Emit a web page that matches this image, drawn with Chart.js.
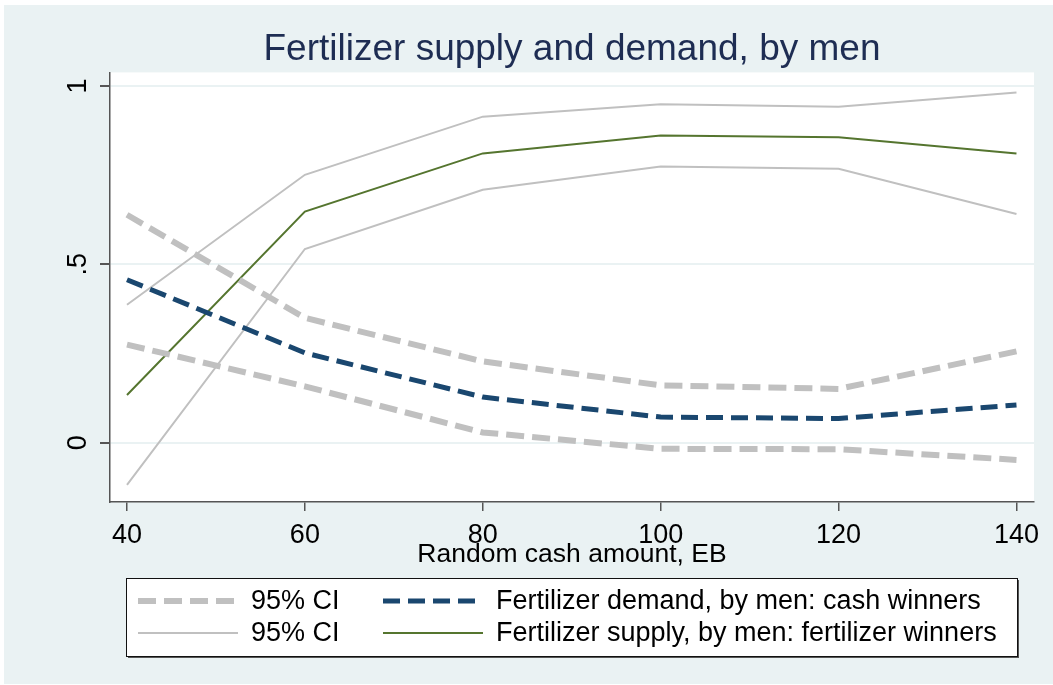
<!DOCTYPE html>
<html>
<head>
<meta charset="utf-8">
<title>Fertilizer supply and demand, by men</title>
<script src="https://cdn.jsdelivr.net/npm/chart.js@4.4.0/dist/chart.umd.min.js"></script>
<style>
   html, body { margin: 0; padding: 0; background: #ffffff; }
   #chart { display: block; }
</style>
</head>
<body>
<canvas id="chart" width="1053" height="685"></canvas>
<script>
'use strict';

/***** DATA *****/
var cashAmounts = [40, 60, 80, 100, 120, 140];

// Fertilizer demand, by men: cash winners
var demand = [0.457, 0.252, 0.128, 0.072, 0.068, 0.106];
var demandCiHigh = [0.639, 0.350, 0.228, 0.161, 0.151, 0.256];
var demandCiLow = [0.275, 0.158, 0.029, -0.017, -0.018, -0.048];

// Fertilizer supply, by men: fertilizer winners
var supply = [0.134, 0.648, 0.811, 0.861, 0.856, 0.811];
var supplyCiHigh = [0.387, 0.751, 0.914, 0.949, 0.942, 0.982];
var supplyCiLow = [-0.118, 0.543, 0.709, 0.774, 0.768, 0.641];

var yTicks = [0, 0.5, 1];
var yTickLabels = ['0', '.5', '1'];
var xTicks = [40, 60, 80, 100, 120, 140];

var seriesLabels = [
   '95% CI',
   'Fertilizer demand, by men: cash winners',
   '95% CI',
   'Fertilizer supply, by men: fertilizer winners'
];


/***** HELPERS *****/
var FONT = "'Liberation Sans', Arial, Helvetica, sans-serif";
var BG = '#EAF2F3';

function toPoints (values) {
   var pts = [];
   for (var i = 0; i < values.length; i++) {
      pts.push({ x: cashAmounts[i], y: values[i] });
   }
   return pts;
}

// upper and lower bound drawn as one series, broken by a null point
function band (high, low) {
   var pts = toPoints(high);
   pts.push({ x: cashAmounts[cashAmounts.length - 1], y: null });
   return pts.concat(toPoints(low));
}

// frame background + white plot region
var backdrop = {
   id: 'backdrop',
   beforeDraw: function (chart) {
      var ctx = chart.ctx, a = chart.chartArea;
      ctx.save();
      ctx.fillStyle = '#ffffff';
      ctx.fillRect(0, 0, chart.width, chart.height);
      ctx.fillStyle = BG;
      ctx.fillRect(4, 5, chart.width - 4, chart.height - 6);
      ctx.fillStyle = '#ffffff';
      ctx.fillRect(a.left, a.top, a.right - a.left, a.bottom - a.top);
      ctx.restore();
   }
};

// two column boxed legend, keys taken from the datasets
var boxLegend = {
   id: 'boxLegend',
   afterDraw: function (chart) {
      var ctx = chart.ctx;
      var box = { left: 126, top: 578, right: 1017, bottom: 656 };
      var cols = [138, 383];
      var keyLen = 100, gap = 13;
      var rows = [601, 633];

      ctx.save();
      ctx.fillStyle = '#555555';
      ctx.fillRect(box.left + 2, box.top + 2, box.right - box.left, box.bottom - box.top);
      ctx.fillStyle = '#ffffff';
      ctx.fillRect(box.left, box.top, box.right - box.left, box.bottom - box.top);
      ctx.strokeStyle = '#111111';
      ctx.lineWidth = 1;
      ctx.strokeRect(box.left + 0.5, box.top + 0.5, box.right - box.left, box.bottom - box.top);

      chart.data.datasets.forEach(function (ds, i) {
         var x = cols[i % 2], y = rows[Math.floor(i / 2)];
         ctx.beginPath();
         ctx.setLineDash(ds.borderDash || []);
         ctx.lineCap = 'butt';
         ctx.strokeStyle = ds.borderColor;
         ctx.lineWidth = ds.borderWidth;
         ctx.moveTo(x, y);
         ctx.lineTo(x + keyLen, y);
         ctx.stroke();
         ctx.setLineDash([]);
         ctx.fillStyle = '#000000';
         ctx.font = '27px ' + FONT;
         ctx.textBaseline = 'middle';
         ctx.textAlign = 'left';
         ctx.fillText(ds.label, x + keyLen + gap, y + 1);
      });
      ctx.restore();
   }
};


/***** CHART *****/
new Chart(document.getElementById('chart'), {
   type: 'line',
   data: {
      datasets: [
         {
            label: seriesLabels[0],
            data: band(demandCiHigh, demandCiLow),
            borderColor: '#C0C0C0',
            borderWidth: 6,
            borderDash: [18, 8]
         },
         {
            label: seriesLabels[1],
            data: toPoints(demand),
            borderColor: '#1A476F',
            borderWidth: 5,
            borderDash: [17, 8]
         },
         {
            label: seriesLabels[2],
            data: band(supplyCiHigh, supplyCiLow),
            borderColor: '#C0C0C0',
            borderWidth: 2
         },
         {
            label: seriesLabels[3],
            data: toPoints(supply),
            borderColor: '#55752F',
            borderWidth: 2
         }
      ]
   },
   options: {
      responsive: false,
      animation: false,
      devicePixelRatio: 1,
      spanGaps: false,
      elements: {
         point: { radius: 0, hoverRadius: 0 },
         line: { tension: 0, borderCapStyle: 'butt', borderJoinStyle: 'miter', fill: false }
      },
      layout: { padding: { left: 0, right: 19, top: 0, bottom: 103 } },
      plugins: {
         legend: { display: false },
         tooltip: { enabled: false },
         title: {
            display: true,
            fullSize: false, // centre over the plot region, not the whole canvas
            text: 'Fertilizer supply and demand, by men',
            color: '#1E2D53',
            font: { family: FONT, size: 37, weight: 'normal' },
            padding: { top: 28, bottom: 0 }
         }
      },
      scales: {
         x: {
            type: 'linear',
            min: 38.09,
            max: 141.97,
            afterFit: function (scale) { scale.height = 80; },
            afterBuildTicks: function (scale) {
               scale.ticks = xTicks.map(function (v) { return { value: v }; });
            },
            ticks: {
               color: '#000000',
               font: { family: FONT, size: 27 },
               padding: 8,
               maxRotation: 0,
               autoSkip: false
            },
            grid: { drawOnChartArea: false, color: '#555555', tickColor: '#555555', tickLength: 9, lineWidth: 1.5 },
            border: { display: true, color: '#555555', width: 1.5 },
            title: {
               display: true,
               text: 'Random cash amount, EB',
               color: '#000000',
               font: { family: FONT, size: 26.5 },
               padding: { top: 0, bottom: 11 }
            }
         },
         y: {
            type: 'linear',
            min: -0.166,
            max: 1.038,
            afterFit: function (scale) { scale.width = 110; },
            afterBuildTicks: function (scale) {
               scale.ticks = yTicks.map(function (v) { return { value: v }; });
            },
            ticks: {
               color: '#000000',
               font: { family: FONT, size: 27 },
               padding: 10,
               minRotation: 90,
               maxRotation: 90,
               crossAlign: 'center',
               autoSkip: false,
               callback: function (value) {
                  var i = yTicks.indexOf(value);
                  return i >= 0 ? yTickLabels[i] : '';
               }
            },
            grid: { color: BG, lineWidth: 2, tickColor: '#555555', tickLength: 10 },
            border: { display: true, color: '#555555', width: 1.5 }
         }
      }
   },
   plugins: [backdrop, boxLegend]
});
</script>
</body>
</html>
